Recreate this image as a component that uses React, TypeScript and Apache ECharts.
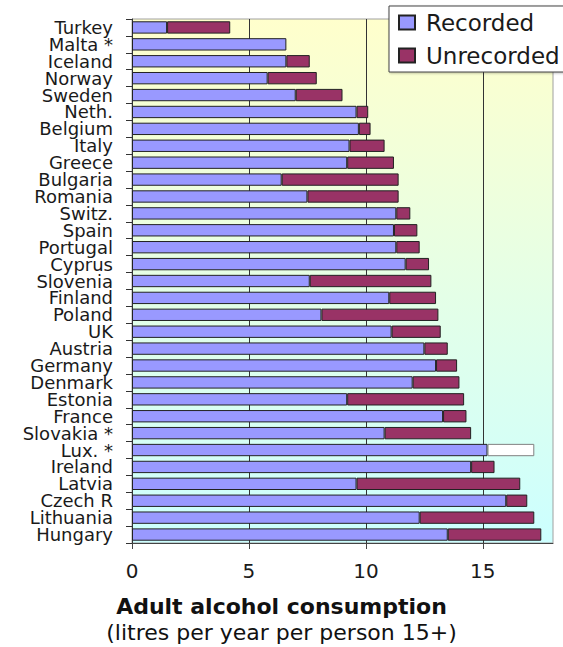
import React, { useEffect, useRef } from "react";
import * as echarts from "echarts";

const countries = [
  "Turkey", "Malta *", "Iceland", "Norway", "Sweden", "Neth.", "Belgium", "Italy",
  "Greece", "Bulgaria", "Romania", "Switz.", "Spain", "Portugal", "Cyprus", "Slovenia",
  "Finland", "Poland", "UK", "Austria", "Germany", "Denmark", "Estonia", "France",
  "Slovakia *", "Lux. *", "Ireland", "Latvia", "Czech R", "Lithuania", "Hungary",
];

const recorded = [
  1.5, 6.6, 6.6, 5.8, 7.0, 9.6, 9.7, 9.3, 9.2, 6.4, 7.5, 11.3, 11.2, 11.3, 11.7, 7.6,
  11.0, 8.1, 11.1, 12.5, 13.0, 12.0, 9.2, 13.3, 10.8, 15.2, 14.5, 9.6, 16.0, 12.3, 13.5,
];

const unrecorded = [
  2.7, 0, 1.0, 2.1, 2.0, 0.5, 0.5, 1.5, 2.0, 5.0, 3.9, 0.6, 1.0, 1.0, 1.0, 5.2,
  2.0, 5.0, 2.1, 1.0, 0.9, 2.0, 5.0, 1.0, 3.7, 2.0, 1.0, 7.0, 0.9, 4.9, 4.0,
];

// Countries whose unrecorded estimate is shown as an empty (white) bar
const estimatedOnly = ["Lux. *"];

const xTicks = [0, 5, 10, 15];

const FONT = "DejaVu Sans";

export default function App() {
  const ref = useRef<HTMLDivElement>(null);

  useEffect(() => {
    if (!ref.current) return;
    const chart = echarts.init(ref.current, null, { renderer: "svg" });

    const unrecData = unrecorded.map((v, i) => {
      if (v === 0) return "-";
      if (estimatedOnly.includes(countries[i])) {
        return { value: v, itemStyle: { color: "#ffffff", borderColor: "#808080" } };
      }
      return v;
    });

    chart.setOption({
      animation: false,
      backgroundColor: "#ffffff",
      textStyle: { fontFamily: FONT },
      grid: {
        left: 132,
        right: 10,
        top: 19,
        bottom: 104,
        show: true,
        borderColor: "#a0a0a0",
        borderWidth: 1,
        backgroundColor: {
          type: "linear",
          x: 0,
          y: 0,
          x2: 0,
          y2: 1,
          colorStops: [
            { offset: 0, color: "#ffffcc" },
            { offset: 1, color: "#ccffff" },
          ],
        },
      },
      legend: {
        orient: "vertical",
        left: 389,
        top: 6,
        padding: [5, 20, 5, 9],
        itemGap: 10,
        itemWidth: 16,
        itemHeight: 14,
        backgroundColor: "#ffffff",
        borderColor: "#444444",
        borderWidth: 1,
        shadowColor: "rgba(0,0,0,0.25)",
        shadowBlur: 2,
        shadowOffsetX: 1,
        shadowOffsetY: 1,
        textStyle: { fontFamily: FONT, fontSize: 23, color: "#1a1a1a", padding: [0, 0, 0, 6] },
        data: [
          { name: "Recorded", icon: "rect" },
          { name: "Unrecorded", icon: "rect" },
        ],
      },
      xAxis: {
        type: "value",
        min: 0,
        max: 18,
        interval: 5,
        axisLine: { show: true, lineStyle: { color: "#444444", width: 1 } },
        axisTick: { show: true, length: 6, customValues: xTicks, lineStyle: { color: "#444444" } },
        axisLabel: {
          show: true,
          customValues: xTicks,
          margin: 18,
          fontFamily: FONT,
          fontSize: 20,
          color: "#1a1a1a",
        },
        splitLine: {
          show: true,
          lineStyle: { color: ["#333333", "#333333", "#333333", "#333333", "#a0a0a0"], width: 1 },
        },
      },
      yAxis: {
        type: "category",
        inverse: true,
        data: countries,
        axisLine: { show: true, lineStyle: { color: "#333333", width: 1 } },
        axisTick: { show: true, length: 6, lineStyle: { color: "#333333" } },
        axisLabel: {
          interval: 0,
          margin: 19,
          fontFamily: FONT,
          fontSize: 18,
          lineHeight: 16,
          color: "#1a1a1a",
        },
        splitLine: { show: false },
      },
      graphic: [
        {
          type: "text",
          x: 281.5,
          y: 606,
          style: {
            text: "Adult alcohol consumption",
            fontFamily: FONT,
            fontSize: 22,
            fontWeight: "bold",
            fill: "#111111",
            textAlign: "center",
            textVerticalAlign: "middle",
          },
        },
        {
          type: "text",
          x: 281.5,
          y: 632,
          style: {
            text: "(litres per year per person 15+)",
            fontFamily: FONT,
            fontSize: 22,
            fill: "#111111",
            textAlign: "center",
            textVerticalAlign: "middle",
          },
        },
      ],
      series: [
        {
          name: "Recorded",
          type: "bar",
          stack: "total",
          barCategoryGap: "27%",
          data: recorded,
          itemStyle: { color: "#9999ff", borderColor: "#222222", borderWidth: 1 },
        },
        {
          name: "Unrecorded",
          type: "bar",
          stack: "total",
          barCategoryGap: "27%",
          data: unrecData,
          itemStyle: { color: "#993366", borderColor: "#222222", borderWidth: 1 },
        },
      ],
    });

    return () => chart.dispose();
  }, []);

  return <div ref={ref} style={{ width: 563, height: 647, position: "absolute", left: 0, top: 0 }} />;
}
